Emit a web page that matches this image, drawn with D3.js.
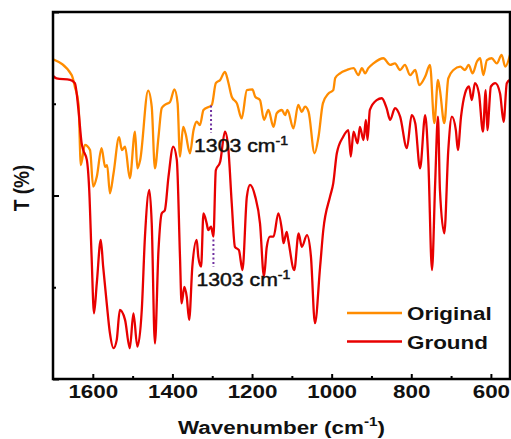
<!DOCTYPE html>
<html>
<head>
<meta charset="utf-8">
<script src="https://cdn.jsdelivr.net/npm/d3@7"></script>
<style>
  body { margin: 0; background: #fff; }
  svg { display: block; }
  text { font-family: "Liberation Sans", Arial, sans-serif; fill: #111; }
</style>
</head>
<body>
<svg width="511" height="439"></svg>
<script>
// FTIR spectra, wavenumber (cm-1) vs transmittance (arb.)
var origWn = [1700,1653,1645,1636,1630,1620,1607,1599,1590,1578,1569,1564,1557,1548,1534,1527,1519,1507,1494,1488,1481,1461,1452,1444,1435,1427,1419,1406,1395,1387,1381,1373,1367,1356,1347,1339,1331,1322,1301,1291,1280,1268,1260,1251,1238,1226,1213,1199,1192,1180,1170,1159,1146,1138,1125,1117,1111,1096,1084,1075,1067,1058,1043,1033,1022,1008,996,991,979,962,945,933,924,916,908,895,870,853,841,828,816,803,790,780,765,753,742,733,728,717,707,694,677,665,656,646,635,627,619,610,598,585,573,564,552];
var origT = [87.1,82.8,79.6,75,58.3,63.8,62.4,52.4,55.1,62.9,57.8,58.3,50.6,56.0,65.9,62.4,63.3,54.7,67.4,57.4,59.7,78.6,74.2,57.4,66.0,73.8,74.7,75.5,78.9,75.1,60.6,68.7,66.9,61.5,67.8,70.1,69.2,73.3,74.7,80.6,81.5,83.7,81.0,76.9,75.1,71.0,78.7,78.9,76.9,76.0,70.6,73.3,68.7,72.4,73.3,71.9,73.3,68.3,74.7,72.8,74.2,72.8,61.5,66.0,75.1,77.8,78.7,82.0,83.3,84.2,84.7,82.8,84.7,83.3,84.7,86.0,87.4,85.6,86.0,84.2,85.6,82.8,84.2,80.1,82.4,85.6,69.7,81.5,78.7,69.7,81.9,84.2,85.1,84.2,85.6,83.3,86.5,87.4,82.8,86.9,87.4,86.0,88.3,85.1,88.3];

var groundWn = [1700,1691,1657,1645,1636,1628,1624,1615,1609,1603,1597,1590,1580,1574,1565,1557,1548,1540,1532,1519,1507,1498,1488,1477,1469,1458,1452,1444,1435,1427,1419,1410,1398,1389,1381,1377,1370,1364,1358,1350,1339,1335,1328,1322,1314,1310,1303,1297,1291,1280,1268,1260,1251,1243,1233,1224,1213,1205,1192,1180,1170,1163,1155,1146,1134,1125,1121,1113,1109,1094,1083,1075,1062,1052,1042,1029,1021,1004,996,987,971,958,952,945,935,929,920,914,910,904,887,874,862,853,841,828,811,799,790,778,765,757,748,740,733,728,717,707,698,688,683,675,665,655,648,640,630,620,613,609,600,589,577,568,560,552];
var groundT = [82.6,81.9,81.5,80.6,73.3,64.2,62.4,59.7,51.5,33.3,17.9,26.1,37.9,30.6,20.6,12.5,8.4,10.6,18.8,16.1,8.4,17.9,8.8,18.8,38.8,51.5,42.4,9.7,35.1,45.1,46.0,55,63.3,59.7,33.3,20.6,25.1,22.4,16.1,30.6,37.9,33.3,30.6,45.1,42.4,40.6,41.5,38.8,56.9,59.2,67.4,63.3,47.9,36.0,35.1,29.7,49.7,52.9,49.7,42.4,27.9,36.0,38.8,38.8,45.1,40.6,37.0,40.1,37.9,29.7,39.7,36.0,39.2,33.3,15.2,30.6,40.6,49.7,53.3,61.5,66.0,67.8,60.6,67.4,64.2,68.7,65.1,70.6,65.1,73.3,76.0,76.5,73.8,70.6,73.8,71.5,62.9,71.9,69.7,57.4,71.9,58.8,29.7,53.3,71.5,51.5,39.7,62.4,71.5,67.8,62.4,71.5,77.8,79.7,76.0,80.6,77.8,67.4,78.7,67.8,79.7,80.6,77.8,70.1,80.6,81.5];

var seriesNames = ["Original", "Ground"];
var seriesColors = ["#ff8c00", "#e80000"];
var xMajor = [1600, 1400, 1200, 1000, 800, 600];
var xMinor = [1500, 1300, 1100, 900, 700];
var yMajor = [0, 50, 100];
var yMinor = [25, 75];
var marks = [{wn: 1303, top: 74.5, bottom: 67}, {wn: 1297, top: 38, bottom: 30.5}];

var svg = d3.select("svg"),
    margin = {top: 12, right: 1, bottom: 60, left: 53},
    width = +svg.attr("width") - margin.left - margin.right,
    height = +svg.attr("height") - margin.top - margin.bottom,
    stretch = 1.18;

var x = d3.scaleLinear().domain([1700, 552]).range([0, width]);
var y = d3.scaleLinear().domain([0, 100]).range([height, 0]);

var g = svg.append("g").attr("transform", "translate(" + margin.left + "," + margin.top + ")");

var line = d3.line()
    .curve(d3.curveMonotoneX)
    .x(function(d) { return x(d[0]); })
    .y(function(d) { return y(d[1]); });

var series = [d3.zip(origWn, origT), d3.zip(groundWn, groundT)];

g.append("defs").append("clipPath").attr("id", "clip")
  .append("rect").attr("width", width).attr("height", height);

g.append("g").attr("clip-path", "url(#clip)")
  .selectAll("path")
  .data(series)
  .enter().append("path")
  .attr("d", line)
  .attr("fill", "none")
  .attr("stroke", function(d, i) { return seriesColors[i]; })
  .attr("stroke-width", 2.3)
  .attr("stroke-linejoin", "round");

// dotted markers at 1303 cm-1
marks.forEach(function(m) {
  g.append("line")
    .attr("x1", x(m.wn)).attr("x2", x(m.wn))
    .attr("y1", y(m.top)).attr("y2", y(m.bottom))
    .attr("stroke", "#7030a0")
    .attr("stroke-width", 2)
    .attr("stroke-dasharray", "2,2.5");
  var t = g.append("text")
    .attr("transform", "translate(" + (x(m.wn) - 17) + "," + (y(m.bottom) + 19) + ") scale(" + stretch + ",1)")
    .attr("font-size", 18)
    .attr("stroke", "#111")
    .attr("stroke-width", 0.45);
  t.append("tspan").text("1303 cm");
  t.append("tspan").attr("font-size", 12).attr("dy", -7).text("-1");
});

// axes
var xAxis = g.append("g").attr("transform", "translate(0," + height + ")")
  .call(d3.axisBottom(x).tickValues(xMajor).tickSize(-5).tickPadding(6).tickFormat(d3.format("d")));
g.append("g").attr("transform", "translate(0," + height + ")")
  .call(d3.axisBottom(x).tickValues(xMinor).tickSize(-3).tickFormat(""));
g.append("g")
  .call(d3.axisLeft(y).tickValues(yMajor).tickSize(-6).tickFormat(""));
g.append("g")
  .call(d3.axisLeft(y).tickValues(yMinor).tickSize(-3).tickFormat(""));

g.selectAll(".domain").remove();
g.selectAll(".tick line").attr("stroke", "#000").attr("stroke-width", 2);
xAxis.selectAll(".tick text")
  .attr("font-size", 19)
  .attr("font-weight", "bold")
  .attr("font-family", "Liberation Sans, Arial, sans-serif")
  .attr("fill", "#111")
  .attr("transform", "scale(" + stretch + ",1)");

g.append("rect")
  .attr("width", width).attr("height", height)
  .attr("fill", "none").attr("stroke", "#000").attr("stroke-width", 2.5);

// axis titles
var xt = svg.append("text")
  .attr("transform", "translate(" + (margin.left + width / 2) + ",434) scale(" + stretch + ",1)")
  .attr("text-anchor", "middle")
  .attr("font-size", 19)
  .attr("font-weight", "bold");
xt.append("tspan").text("Wavenumber (cm");
xt.append("tspan").attr("font-size", 13).attr("dy", -8).text("-1");
xt.append("tspan").attr("dy", 8).text(")");

svg.append("text")
  .attr("transform", "translate(29,188) scale(" + stretch + ",1) rotate(-90)")
  .attr("text-anchor", "middle")
  .attr("font-size", 19)
  .attr("font-weight", "bold")
  .text("T (%)");

// legend
var legend = g.append("g").attr("transform", "translate(294,301)");
seriesNames.forEach(function(name, i) {
  var row = legend.append("g").attr("transform", "translate(0," + (i * 28.5) + ")");
  row.append("line")
    .attr("x1", 0).attr("x2", 55)
    .attr("stroke", seriesColors[i]).attr("stroke-width", 2.5);
  row.append("text")
    .attr("transform", "translate(60,7) scale(" + stretch + ",1)")
    .attr("font-size", 19)
    .attr("font-weight", "bold")
    .text(name);
});
</script>
</body>
</html>
